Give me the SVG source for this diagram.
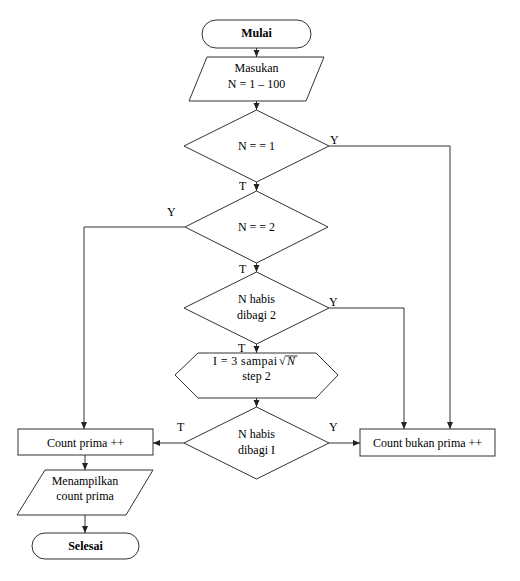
<svg xmlns="http://www.w3.org/2000/svg" width="520" height="581" viewBox="0 0 520 581" font-family="'Liberation Serif', 'Times New Roman', serif" font-size="12">
<style>
.s{fill:#fff;stroke:#333;stroke-width:1}
.c{fill:none;stroke:#333;stroke-width:1}
text{font-family:'Liberation Serif','Times New Roman',serif;font-size:12px;fill:#000}
.m{text-anchor:middle}
.b{font-weight:bold}
</style>
<defs>
<marker id="ah" markerWidth="8" markerHeight="8" refX="7" refY="4" orient="auto" markerUnits="userSpaceOnUse">
<path d="M0,1 L7,4 L0,7 Z" fill="#222"/>
</marker>
</defs>
<rect width="520" height="581" fill="#fff"/>
<g id="connectors">
<line class="c" x1="256.5" y1="48" x2="256.5" y2="57" marker-end="url(#ah)"/>
<line class="c" x1="256.5" y1="101" x2="256.5" y2="110" marker-end="url(#ah)"/>
<line class="c" x1="256.5" y1="182" x2="256.5" y2="191" marker-end="url(#ah)"/>
<line class="c" x1="256.5" y1="263" x2="256.5" y2="272" marker-end="url(#ah)"/>
<line class="c" x1="256.5" y1="344" x2="256.5" y2="353" marker-end="url(#ah)"/>
<line class="c" x1="256.5" y1="398" x2="256.5" y2="407" marker-end="url(#ah)"/>
<polyline class="c" points="329,146 450,146 450,429" marker-end="url(#ah)"/>
<polyline class="c" points="329,308 404,308 404,429" marker-end="url(#ah)"/>
<polyline class="c" points="185,227 84,227 84,429" marker-end="url(#ah)"/>
<line class="c" x1="184" y1="443" x2="153" y2="443" marker-end="url(#ah)"/>
<line class="c" x1="329" y1="443" x2="360" y2="443" marker-end="url(#ah)"/>
<line class="c" x1="85" y1="455" x2="85" y2="470" marker-end="url(#ah)"/>
<line class="c" x1="85" y1="515" x2="85" y2="533" marker-end="url(#ah)"/>
<text x="330" y="144">Y</text>
<text x="239" y="190">T</text>
<text x="167" y="216">Y</text>
<text x="239" y="273">T</text>
<text x="329" y="306">Y</text>
<text x="238" y="352">T</text>
<text x="177" y="431">T</text>
<text x="329" y="431">Y</text>
</g>
<g id="mulai">
<rect class="s" x="202" y="20" width="109" height="28" rx="14"/>
<text class="m b" x="256.5" y="37">Mulai</text>
</g>
<g id="masukan">
<polygon class="s" points="207,57 324,57 306,101 189,101"/>
<text class="m" x="256.5" y="72">Masukan</text>
<text class="m" x="256.5" y="88">N = 1 – 100</text>
</g>
<g id="n1">
<polygon class="s" points="256.5,110 329,146 256.5,182 184,146"/>
<text class="m" x="256.5" y="150">N = = 1</text>
</g>
<g id="n2">
<polygon class="s" points="256.5,191 328,227 256.5,263 185,227"/>
<text class="m" x="256.5" y="231">N = = 2</text>
</g>
<g id="habis2">
<polygon class="s" points="256.5,272 329,308 256.5,344 184,308"/>
<text class="m" x="256.5" y="303">N habis</text>
<text class="m" x="256.5" y="319">dibagi 2</text>
</g>
<g id="loop">
<polygon class="s" points="175,375 198,353 316,353 338,375 316,398 198,398"/>
<text x="213" y="365" textLength="64" lengthAdjust="spacing">I = 3 sampai</text>
<text x="279" y="365">√</text>
<text x="287" y="365" font-style="italic" style="font-style:italic">N</text>
<line class="c" x1="285.5" y1="356" x2="297.5" y2="356"/>
<text class="m" x="256.5" y="380">step 2</text>
</g>
<g id="habisI">
<polygon class="s" points="256.5,407 329,443 256.5,479 184,443"/>
<text class="m" x="256.5" y="438">N habis</text>
<text class="m" x="256.5" y="454">dibagi I</text>
</g>
<g id="countprima">
<rect class="s" x="18" y="429" width="135" height="26"/>
<text class="m" x="85.5" y="447">Count prima ++</text>
</g>
<g id="countbukan">
<rect class="s" x="360" y="429" width="135" height="27"/>
<text class="m" x="427.5" y="447">Count bukan prima ++</text>
</g>
<g id="tampil">
<polygon class="s" points="45,470 153,470 126,515 17,515"/>
<text class="m" x="85" y="485">Menampilkan</text>
<text class="m" x="85" y="500">count prima</text>
</g>
<g id="selesai">
<rect class="s" x="32" y="533" width="107" height="26" rx="13"/>
<text class="m b" x="85.5" y="550">Selesai</text>
</g>
</svg>
